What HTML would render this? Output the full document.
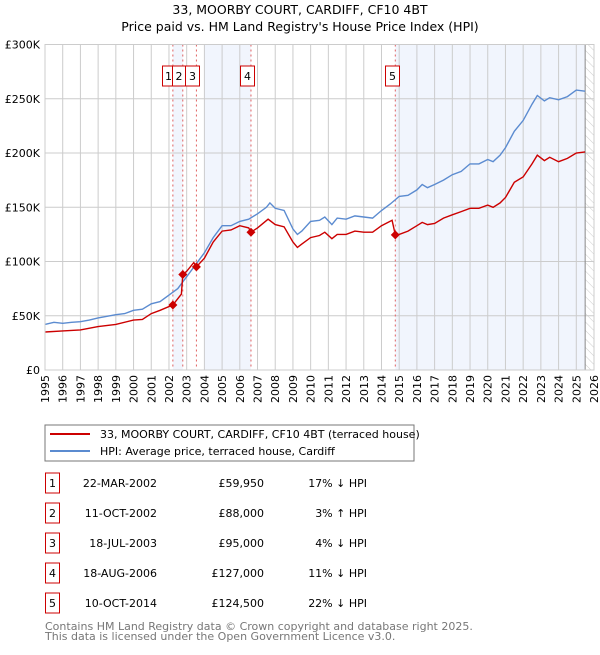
<!DOCTYPE html>
<html><head><meta charset="utf-8"><style>
body{margin:0;background:#fff;font-family:"Liberation Sans","DejaVu Sans",sans-serif;}
svg text{font-family:"DejaVu Sans","Liberation Sans",sans-serif;}
</style></head><body>
<svg id="c" width="600" height="650" xmlns="http://www.w3.org/2000/svg">
<text x="300" y="14" text-anchor="middle" font-size="12.5">33, MOORBY COURT, CARDIFF, CF10 4BT</text>
<text x="300" y="31" text-anchor="middle" font-size="12.5">Price paid vs. HM Land Registry's House Price Index (HPI)</text>
<g id="plot"></g>
<rect x="45" y="425" width="369" height="36" fill="#fff" stroke="#777"/>
<line x1="50" y1="434" x2="90" y2="434" stroke="#cc0000" stroke-width="2"/>
<text x="100" y="438" font-size="11">33, MOORBY COURT, CARDIFF, CF10 4BT (terraced house)</text>
<line x1="50" y1="451" x2="90" y2="451" stroke="#5b8bd0" stroke-width="2"/>
<text x="100" y="455" font-size="11">HPI: Average price, terraced house, Cardiff</text>
<g id="table"></g>
<text x="45" y="630" font-size="11" fill="#777">Contains HM Land Registry data © Crown copyright and database right 2025.</text>
<text x="45" y="640" font-size="11" fill="#777">This data is licensed under the Open Government Licence v3.0.</text>
</svg>
<script>
const hpiYears=[1995,1995.5,1996,1996.5,1997,1997.5,1998,1998.5,1999,1999.5,2000,2000.5,2001,2001.5,2002,2002.5,2003,2003.5,2004,2004.5,2005,2005.5,2006,2006.5,2007,2007.5,2007.7,2008,2008.5,2009,2009.25,2009.5,2010,2010.5,2010.8,2011.2,2011.5,2012,2012.5,2013,2013.5,2014,2014.5,2015,2015.5,2016,2016.3,2016.6,2017,2017.5,2018,2018.5,2019,2019.5,2020,2020.3,2020.7,2021,2021.5,2022,2022.5,2022.8,2023.2,2023.5,2024,2024.5,2025,2025.5];
const hpiValues=[42,44,43,44,44.5,46,48,49.5,51,52,55,56,61,63,69,75,86,97,108,122,133,133,137,139,144,150,154,149,147,130,125,128,137,138,141,134,140,139,142,141,140,147,153,160,161,166,171,168,171,175,180,183,190,190,194,192,198,205,220,230,245,253,248,251,249,252,258,257];
const propYears=[1995,1996,1997,1998,1999,2000,2000.5,2001,2001.5,2002.22,2002.7,2002.78,2003,2003.4,2003.55,2004,2004.5,2005,2005.5,2006,2006.5,2006.63,2007,2007.6,2008,2008.5,2009,2009.25,2009.5,2010,2010.5,2010.8,2011.2,2011.5,2012,2012.5,2013,2013.5,2014,2014.6,2014.78,2015,2015.5,2016,2016.3,2016.6,2017,2017.5,2018,2018.5,2019,2019.5,2020,2020.3,2020.7,2021,2021.5,2022,2022.5,2022.8,2023.2,2023.5,2024,2024.5,2025,2025.5];
const propValues=[35,36,37,40,42,46,46.5,52,55,60,70,88,91,99,95,103,118,128,129,133,131,127,131,139,134,132,118,113,116,122,124,127,121,125,125,128,127,127,133,138,124.5,125,128,133,136,134,135,140,143,146,149,149,152,150,154,159,173,178,190,198,193,196,192,195,200,201];
const saleLabels=["1","2","3","4","5"];
const saleYears=[2002.22,2002.78,2003.55,2006.63,2014.78];
const saleValues=[59.95,88,95,127,124.5];
const saleDates=["22-MAR-2002","11-OCT-2002","18-JUL-2003","18-AUG-2006","10-OCT-2014"];
const salePrices=["£59,950","£88,000","£95,000","£127,000","£124,500"];
const saleHpi=["17% ↓ HPI","3% ↑ HPI","4% ↓ HPI","11% ↓ HPI","22% ↓ HPI"];
const yTicks=[0,50,100,150,200,250,300];
const yTickLabels=["£0","£50K","£100K","£150K","£200K","£250K","£300K"];
const NS="http://www.w3.org/2000/svg";
const X0=45,X1=594,Y0=370,Y1=44.5;
const xs=y=>X0+(y-1995)/(2026-1995)*(X1-X0);
const ys=v=>Y0-v/300*(Y0-Y1);
const plot=document.getElementById('plot');
function mk(tag,attrs,parent){const e=document.createElementNS(NS,tag);for(const k in attrs)e.setAttribute(k,attrs[k]);(parent||plot).appendChild(e);return e;}
const bands=[[saleYears[0],saleYears[1]],[2004,saleYears[3]],[saleYears[4],2025.5]];
bands.forEach(b=>{const r=mk('rect',{x:xs(b[0]),y:Y1,width:xs(b[1])-xs(b[0]),height:Y0-Y1,fill:'#eef3fc',opacity:0.8});

});
const defs=mk('defs',{});
const pat=mk('pattern',{id:'h',width:6,height:6,patternUnits:'userSpaceOnUse',patternTransform:'rotate(-45)'},defs);
mk('line',{x1:0,y1:0,x2:0,y2:6,stroke:'#ccc','stroke-width':1},pat);
const hr=mk('rect',{x:xs(2025.5),y:Y1,width:X1-xs(2025.5),height:Y0-Y1,fill:'url(#h)'});


for(let yr=1995;yr<=2026;yr++){const x=xs(yr);
mk('line',{x1:x,y1:Y1,x2:x,y2:Y0,stroke:'#ccc','stroke-width':1});
const t=mk('text',{x:0,y:0,'font-size':11,'text-anchor':'end',transform:`translate(${x+4},${Y0+5}) rotate(-90)`});
t.textContent=yr;

}
yTicks.forEach((v,i)=>{const y=ys(v);
mk('line',{x1:X0,y1:y,x2:X1,y2:y,stroke:'#ccc','stroke-width':1});
const t=mk('text',{x:40,y:y+4,'font-size':11,'text-anchor':'end'});
t.textContent=yTickLabels[i];

});
mk('line',{x1:xs(2025.5),y1:Y1,x2:xs(2025.5),y2:Y0,stroke:'#888','stroke-width':1});
saleYears.forEach(s=>{mk('line',{x1:xs(s),y1:Y1,x2:xs(s),y2:Y0,stroke:'#e06060','stroke-width':1,'stroke-dasharray':'2,3'});});
function path(xa,va,col,name){const d=xa.map((x,i)=>(i?'L':'M')+xs(x).toFixed(1)+','+ys(va[i]).toFixed(1)).join('');
const p=mk('path',{d:d,fill:'none',stroke:col,'stroke-width':1.4});

}
path(hpiYears,hpiValues,'#5b8bd0','hpi-line');
path(propYears,propValues,'#cc0000','property-line');
saleYears.forEach((s,i)=>{const x=xs(s),y=ys(saleValues[i]);
const m=mk('path',{d:`M${x},${y-4.5}L${x+4.5},${y}L${x},${y+4.5}L${x-4.5},${y}Z`,fill:'#cc0000'});

});
// label boxes (layout positions, avoid overlap)
const boxX=[162.5,172.5,185.5,240.5,385.5];
const boxW=[10,13,14,14,14];
saleLabels.forEach((l,i)=>{
const r=mk('rect',{x:boxX[i],y:66,width:boxW[i],height:20,fill:'#fff',stroke:'#cc0000','stroke-width':1});


const t=mk('text',{x:boxX[i]+boxW[i]/2+(i==0?1:0),y:80,'font-size':11,'text-anchor':'middle'});
t.textContent=l;});
mk('rect',{x:X0,y:Y1,width:X1-X0,height:Y0-Y1,fill:'none',stroke:'#ccc'});
const tb=document.getElementById('table');
saleLabels.forEach((l,i)=>{const cy=483+30*i;
const g=mk('g',{},tb);


mk('rect',{x:45.5,y:cy-10,width:14,height:20,fill:'#fff',stroke:'#cc0000'},g);
const a=mk('text',{x:52.5,y:cy+4,'font-size':11,'text-anchor':'middle'},g);a.textContent=l;
const b=mk('text',{x:157,y:cy+4,'font-size':11,'text-anchor':'end'},g);b.textContent=saleDates[i];
const c=mk('text',{x:264,y:cy+4,'font-size':11,'text-anchor':'end'},g);c.textContent=salePrices[i];
const d=mk('text',{x:367,y:cy+4,'font-size':11,'text-anchor':'end'},g);d.textContent=saleHpi[i];});
</script>
</body></html>
